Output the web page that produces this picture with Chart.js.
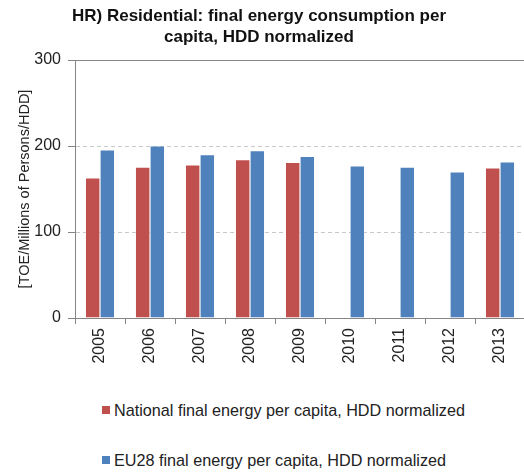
<!DOCTYPE html>
<html>
<head>
<meta charset="utf-8">
<script src="https://cdn.jsdelivr.net/npm/chart.js@4/dist/chart.umd.min.js"></script>
<style>
    body { margin: 0; background: #fff; }
    #wrap { position: relative; width: 524px; height: 474px; overflow: hidden; font-family: "Liberation Sans", Arial, sans-serif; }
    #title { position: absolute; left: 0; top: 5px; width: 518px; text-align: center; font-weight: bold; font-size: 17px; line-height: 21px; color: #111; }
    #chartBox { position: absolute; left: 0; top: 0; width: 540px; height: 372px; }
    #legend { position: absolute; left: 102px; top: 400px; }
    .legend-item { position: relative; height: 50px; font-size: 16.2px; color: #222; white-space: nowrap; }
    .legend-box { position: absolute; left: 0; top: 6px; width: 8px; height: 8px; }
    .legend-text { position: absolute; left: 12px; top: 0; line-height: 20px; }
</style>
</head>
<body>
<div id="wrap">
    <div id="chartBox"><canvas id="chart" width="540" height="372"></canvas></div>
    <div id="title">HR) Residential: final energy consumption per<br>capita, HDD normalized</div>
    <div id="legend"></div>
</div>
<script>
const years = ['2005', '2006', '2007', '2008', '2009', '2010', '2011', '2012', '2013'];
const nationalValues = [163, 175.5, 178, 184, 181, null, null, null, 174.5];
const eu28Values = [195.5, 200, 190, 194.5, 188, 177, 175.5, 170, 181.5];
const yTicks = [0, 100, 200, 300];

const seriesLabels = ['National final energy per capita, HDD normalized', 'EU28 final energy per capita, HDD normalized'];
const seriesColors = ['#C0504D', '#4F81BD'];

const axisGray = '#868686';
const fontFamily = '"Liberation Sans", Arial, sans-serif';

const ctx = document.getElementById('chart').getContext('2d');

const chart = new Chart(ctx, {
    type: 'bar',
    data: {
        labels: years,
        datasets: [
            {
                label: seriesLabels[0],
                data: nationalValues,
                backgroundColor: seriesColors[0],
                borderColor: 'rgba(255, 255, 255, 0.5)',
                borderWidth: 0.6,
                categoryPercentage: 0.586,
                barPercentage: 1.0
            },
            {
                label: seriesLabels[1],
                data: eu28Values,
                backgroundColor: seriesColors[1],
                borderColor: 'rgba(255, 255, 255, 0.5)',
                borderWidth: 0.6,
                categoryPercentage: 0.586,
                barPercentage: 1.0
            }
        ]
    },
    options: {
        responsive: false,
        animation: false,
        layout: {
            padding: { top: 60, right: 15, bottom: 0, left: 0 }
        },
        plugins: {
            legend: { display: false },
            title: { display: false },
            tooltip: { enabled: false }
        },
        scales: {
            x: {
                grid: {
                    drawOnChartArea: false,
                    drawTicks: true,
                    tickLength: 6,
                    tickColor: axisGray,
                    offset: true
                },
                border: { color: axisGray, width: 1 },
                ticks: {
                    autoSkip: false,
                    minRotation: 90,
                    maxRotation: 90,
                    padding: 4,
                    color: '#222',
                    font: { family: fontFamily, size: 16 }
                },
                afterFit: (scale) => { scale.height = 54; }
            },
            y: {
                min: 0,
                max: 300,
                afterBuildTicks: (scale) => {
                    scale.ticks = yTicks.map(v => ({ value: v }));
                },
                grid: {
                    color: (c) => (c.tick && c.tick.value === 300) ? axisGray : '#c8c8c8',
                    lineWidth: 1,
                    drawTicks: true,
                    tickLength: 7,
                    tickColor: axisGray,
                    tickBorderDash: []
                },
                border: {
                    color: axisGray,
                    width: 1,
                    dash: (c) => (c.tick && c.tick.value > 0 && c.tick.value < 300) ? [4, 3] : []
                },
                ticks: {
                    padding: 7,
                    color: '#222',
                    font: { family: fontFamily, size: 16 }
                },
                title: {
                    display: true,
                    text: '[TOE/Millions of Persons/HDD]',
                    color: '#222',
                    font: { family: fontFamily, size: 14.5 },
                    padding: { top: 16, bottom: 0 }
                },
                afterFit: (scale) => { scale.width = 75; }
            }
        }
    }
});

// legend rows, one per series
const legendEl = document.getElementById('legend');
chart.data.datasets.forEach(ds => {
    const item = document.createElement('div');
    item.className = 'legend-item';
    item.innerHTML = `
        <span class="legend-box" style="background:${ds.backgroundColor}"></span>
        <span class="legend-text">${ds.label}</span>
    `;
    legendEl.appendChild(item);
});
</script>
</body>
</html>
